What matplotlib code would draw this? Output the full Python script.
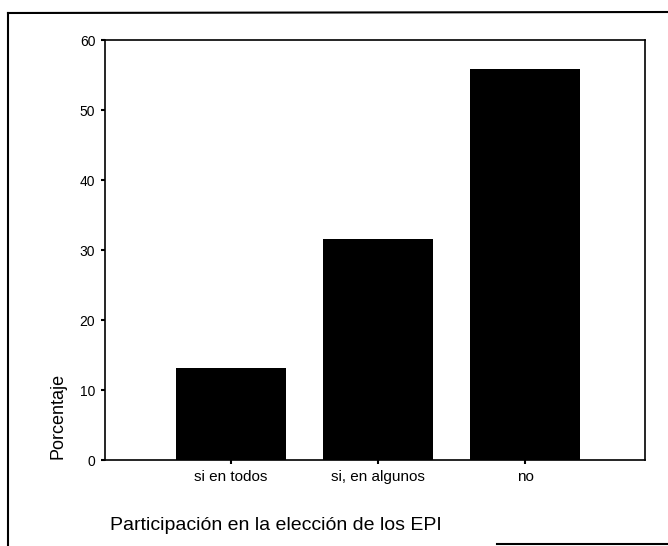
import matplotlib.pyplot as plt
from matplotlib.lines import Line2D

# Datos
categorias = ['si en todos', 'si, en algunos', 'no']
porcentajes = [13.1, 31.6, 55.9]
ticks_y = [0, 10, 20, 30, 40, 50, 60]

plt.rcParams['font.family'] = ['Liberation Sans', 'DejaVu Sans']

fig = plt.figure(figsize=(6.68, 5.46), dpi=100)
W, H = 668, 546
# ejes: izquierda 105, derecha 645, arriba 40, abajo 460 (px)
ax = fig.add_axes([105 / W, 1 - 460 / H, (645 - 105) / W, (460 - 40) / H])

x = range(len(categorias))
ax.bar(x, porcentajes, width=0.75, color='black')

ax.set_xlim(-0.857, 2.816)
ax.set_ylim(0, 60)
ax.set_yticks(ticks_y)
ax.set_xticks(list(x))
ax.set_xticklabels(categorias, fontsize=11)
ax.tick_params(axis='y', labelsize=10, length=3, width=1.5, direction='out', pad=4)
ax.tick_params(axis='x', length=3, width=1.5, direction='out', pad=4)
for s in ax.spines.values():
    s.set_linewidth(1.2)

# etiquetas
fig.text(58 / W, 1 - 416 / H, 'Porcentaje', rotation=90, fontsize=13,
         ha='center', va='center')
fig.text(110 / W, 1 - 525 / H, 'Participación en la elección de los EPI',
         fontsize=14, ha='left', va='center')

# marco exterior
fig.add_artist(Line2D([8 / W, 8 / W], [0, 1 - 13 / H], color='black', lw=1.5,
                      transform=fig.transFigure))
fig.add_artist(Line2D([8 / W, 1], [1 - 13 / H, 1 - 12 / H], color='black', lw=1.5,
                      transform=fig.transFigure))
fig.add_artist(Line2D([497 / W, 1], [1 - 544 / H, 1 - 544 / H], color='black', lw=1.5,
                      transform=fig.transFigure))

fig.savefig('out.png', dpi=100)
